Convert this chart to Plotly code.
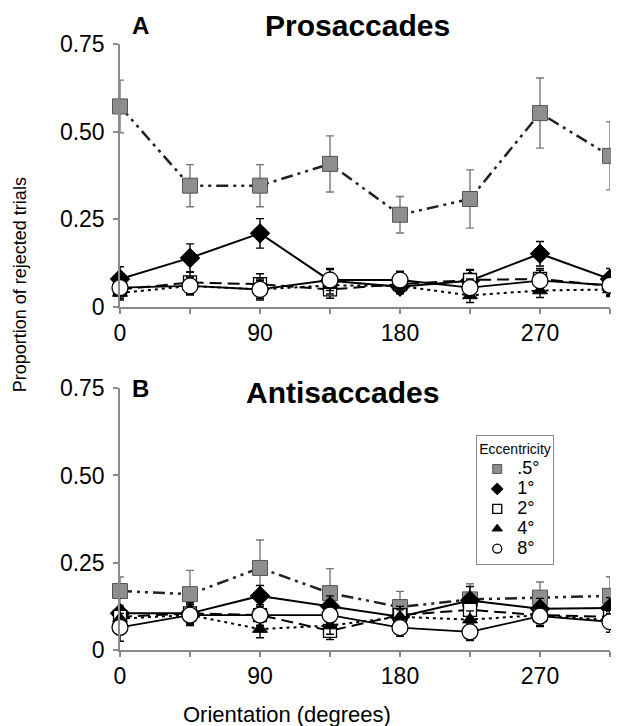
import plotly.graph_objects as go

# ---- data ----
orientation = [0, 45, 90, 135, 180, 225, 270, 315]
x_tick_vals = [0, 45, 90, 135, 180, 225, 270, 315]
x_tick_text = ["0", "", "90", "", "180", "", "270", ""]
y_tick_vals = [0, 0.25, 0.5, 0.75]
y_tick_text = ["0", "0.25", "0.50", "0.75"]
series_names = [".5°", "1°", "2°", "4°", "8°"]

# Panel A: Prosaccades
pro_05 = [0.572, 0.346, 0.346, 0.408, 0.263, 0.308, 0.553, 0.431]
pro_05_err = [0.075, 0.06, 0.06, 0.08, 0.052, 0.083, 0.1, 0.097]
pro_1 = [0.08, 0.14, 0.21, 0.075, 0.058, 0.075, 0.152, 0.08]
pro_1_err = [0.035, 0.04, 0.042, 0.035, 0.02, 0.03, 0.035, 0.03]
pro_2 = [0.05, 0.07, 0.065, 0.05, 0.065, 0.077, 0.08, 0.06]
pro_2_err = [0.025, 0.03, 0.03, 0.025, 0.025, 0.03, 0.03, 0.025]
pro_4 = [0.04, 0.06, 0.05, 0.062, 0.06, 0.033, 0.047, 0.05]
pro_4_err = [0.02, 0.025, 0.025, 0.025, 0.02, 0.02, 0.02, 0.02]
pro_8 = [0.055, 0.06, 0.05, 0.077, 0.077, 0.055, 0.075, 0.062]
pro_8_err = [0.025, 0.025, 0.03, 0.03, 0.025, 0.025, 0.03, 0.03]

# Panel B: Antisaccades
anti_05 = [0.169, 0.16, 0.235, 0.163, 0.123, 0.145, 0.15, 0.155]
anti_05_err = [0.04, 0.068, 0.08, 0.07, 0.045, 0.045, 0.045, 0.055]
anti_1 = [0.105, 0.105, 0.155, 0.125, 0.095, 0.142, 0.118, 0.12]
anti_1_err = [0.02, 0.03, 0.03, 0.03, 0.02, 0.04, 0.03, 0.03]
anti_2 = [0.095, 0.105, 0.1, 0.055, 0.1, 0.115, 0.1, 0.095]
anti_2_err = [0.025, 0.03, 0.03, 0.025, 0.025, 0.03, 0.03, 0.025]
anti_4 = [0.09, 0.1, 0.06, 0.07, 0.095, 0.087, 0.1, 0.085]
anti_4_err = [0.025, 0.025, 0.025, 0.025, 0.02, 0.025, 0.02, 0.02]
anti_8 = [0.065, 0.1, 0.1, 0.1, 0.064, 0.052, 0.097, 0.081]
anti_8_err = [0.04, 0.03, 0.03, 0.03, 0.025, 0.025, 0.03, 0.03]

FONT = "Liberation Sans, Arial, Helvetica, sans-serif"

styles = {
    ".5°": dict(marker=dict(symbol="square", size=15, color="#8e8e8e", line=dict(color="#555555", width=1)),
                line=dict(color="#222222", width=2.5, dash="12px,5px,3px,5px,3px,5px"), err="#777777"),
    "1°": dict(marker=dict(symbol="diamond", size=15, color="black", line=dict(color="black", width=1)),
               line=dict(color="black", width=2), err="black"),
    "2°": dict(marker=dict(symbol="square", size=13, color="white", line=dict(color="black", width=1.3)),
               line=dict(color="black", width=2, dash="12px,6px"), err="black"),
    "4°": dict(marker=dict(symbol="triangle-up", size=13, color="black", line=dict(color="black", width=1)),
               line=dict(color="black", width=2, dash="3px,4px"), err="black"),
    "8°": dict(marker=dict(symbol="circle", size=16, color="white", line=dict(color="black", width=1.3)),
               line=dict(color="black", width=1.8), err="black"),
}

panel_a = [(pro_05, pro_05_err), (pro_1, pro_1_err), (pro_2, pro_2_err), (pro_4, pro_4_err), (pro_8, pro_8_err)]
panel_b = [(anti_05, anti_05_err), (anti_1, anti_1_err), (anti_2, anti_2_err), (anti_4, anti_4_err), (anti_8, anti_8_err)]

fig = go.Figure()

for xa, ya, panel in (("x", "y", panel_a), ("x2", "y2", panel_b)):
    for name, (vals, errs) in zip(series_names, panel):
        st = styles[name]
        fig.add_trace(go.Scatter(
            x=orientation, y=vals, mode="lines+markers", name=name,
            xaxis=xa, yaxis=ya, showlegend=False, cliponaxis=False,
            line=st["line"], marker=st["marker"],
            error_y=dict(type="data", array=errs, visible=True, color=st["err"], thickness=1.4, width=4),
        ))

# legend-only entries (markers only)
for name in series_names:
    m = styles[name]["marker"]
    fig.add_trace(go.Scatter(x=[None], y=[None], mode="markers",
                             name="<span style='font-size:18px'>" + name + "</span>",
                             marker=dict(symbol=m["symbol"], size=9, color=m["color"], line=m["line"]),
                             xaxis="x2", yaxis="y2", showlegend=True))

axis_common = dict(showgrid=False, zeroline=False, showline=True, linecolor="#8a8a8a", linewidth=1.5,
                   ticks="outside", ticklen=5, tickcolor="#8a8a8a", tickwidth=1.5,
                   tickfont=dict(family=FONT, size=23, color="black"))

xcommon = dict(axis_common, range=[0, 315], tickvals=x_tick_vals, ticktext=x_tick_text, ticklabelstandoff=0)
ycommon = dict(axis_common, range=[0, 0.75], tickvals=y_tick_vals, ticktext=y_tick_text, ticklabelstandoff=4)

fig.update_layout(
    width=611, height=718,
    margin=dict(l=112, r=9, t=36, b=76, autoexpand=False),
    paper_bgcolor="white", plot_bgcolor="white",
    font=dict(family=FONT, color="black"),
    xaxis=dict(xcommon, anchor="y", domain=[0, 1]),
    yaxis=dict(ycommon, anchor="x", domain=[0.566, 1]),
    xaxis2=dict(xcommon, anchor="y2", domain=[0, 1]),
    yaxis2=dict(ycommon, anchor="x2", domain=[0, 0.432]),
    legend=dict(x=0.727, y=0.355, xanchor="left", yanchor="top",
                bordercolor="#8a8a8a", borderwidth=1, bgcolor="white",
                font=dict(family=FONT, size=13, color="black"),
                title=dict(text="Eccentricity", font=dict(family=FONT, size=14, color="black"), side="top"),
                itemwidth=30, tracegroupgap=0),
    annotations=[
        dict(text="<b>A</b>", x=0.02, y=1.031, xref="paper", yref="paper", xanchor="left", yanchor="middle",
             showarrow=False, font=dict(size=24, family=FONT)),
        dict(text="<b>Prosaccades</b>", x=0.484, y=1.031, xref="paper", yref="paper", xanchor="center",
             yanchor="middle", showarrow=False, font=dict(size=30, family=FONT)),
        dict(text="<b>B</b>", x=0.02, y=0.432, xref="paper", yref="paper", xanchor="left", yanchor="middle",
             showarrow=False, font=dict(size=24, family=FONT)),
        dict(text="<b>Antisaccades</b>", x=0.455, y=0.425, xref="paper", yref="paper", xanchor="center",
             yanchor="middle", showarrow=False, font=dict(size=30, family=FONT)),
        dict(text="Proportion of rejected trials", textangle=-90, x=-0.204, y=0.602,
             xref="paper", yref="paper", xanchor="center", yanchor="middle",
             showarrow=False, font=dict(size=18, family=FONT)),
        dict(text="Orientation (degrees)", x=0.341, y=-0.107, xref="paper", yref="paper",
             xanchor="center", yanchor="middle", showarrow=False, font=dict(size=22, family=FONT)),
    ],
)

fig.write_html("out.html")
